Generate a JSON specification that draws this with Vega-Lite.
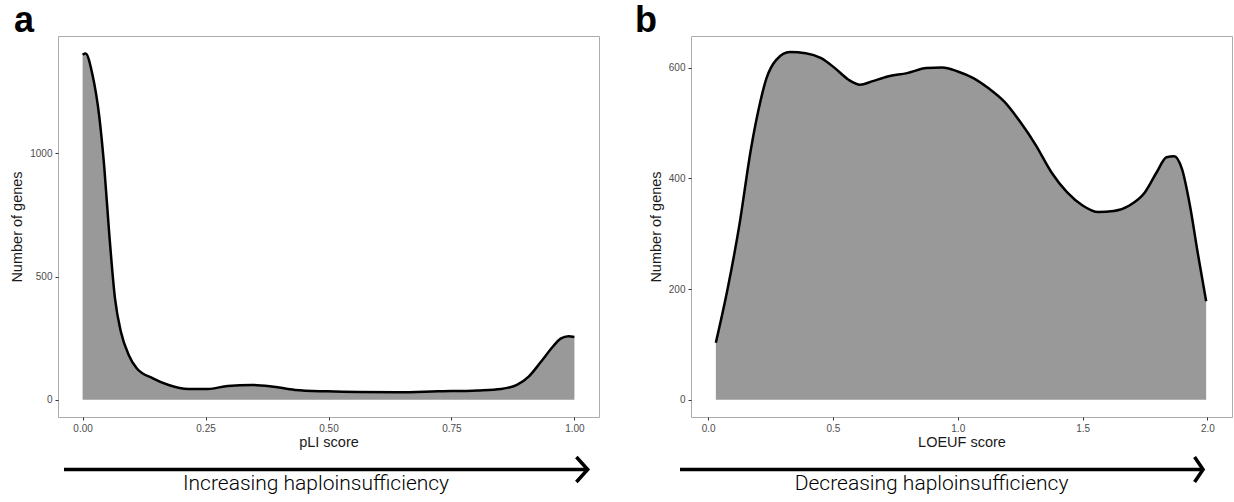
{
  "$schema": "https://vega.github.io/schema/vega-lite/v6.json",
  "autosize": {"type": "pad"},
  "padding": {"left": 8, "top": 2, "right": 3, "bottom": 0},
  "background": "white",
  "bounds": "flush",
  "columns": 2,
  "spacing": {"row": 30, "column": 92},
  "config": {
    "font": "Liberation Sans",
    "view": {"stroke": "#ababab", "strokeWidth": 1},
    "axis": {
      "domain": false,
      "grid": false,
      "tickColor": "#333333",
      "tickSize": 3,
      "tickWidth": 1,
      "labelColor": "#4d4d4d",
      "labelFontSize": 10,
      "labelPadding": 3,
      "labelFlush": false,
      "labelFont": "Liberation Sans",
      "titleFont": "Liberation Sans",
      "titleFontSize": 14.5,
      "titleFontWeight": "normal",
      "titleColor": "#1a1a1a",
      "titlePadding": 2
    }
  },
  "datasets": {
    "pli": [
      {"x": 0, "count": 1400}, {"x": 0.006, "count": 1405}, {"x": 0.02, "count": 1320},
      {"x": 0.034, "count": 1148}, {"x": 0.044, "count": 946}, {"x": 0.054, "count": 678},
      {"x": 0.066, "count": 409}, {"x": 0.078, "count": 275}, {"x": 0.094, "count": 181},
      {"x": 0.11, "count": 128}, {"x": 0.143, "count": 87}, {"x": 0.175, "count": 60},
      {"x": 0.215, "count": 44}, {"x": 0.255, "count": 44}, {"x": 0.295, "count": 56},
      {"x": 0.344, "count": 60}, {"x": 0.384, "count": 54}, {"x": 0.432, "count": 40},
      {"x": 0.497, "count": 34}, {"x": 0.561, "count": 31}, {"x": 0.642, "count": 30},
      {"x": 0.722, "count": 34}, {"x": 0.803, "count": 38}, {"x": 0.851, "count": 44},
      {"x": 0.883, "count": 60}, {"x": 0.907, "count": 94}, {"x": 0.932, "count": 154},
      {"x": 0.956, "count": 215}, {"x": 0.972, "count": 248}, {"x": 0.988, "count": 258},
      {"x": 1.0, "count": 255}
    ],
    "loeuf": [
      {"x": 0.031, "count": 103}, {"x": 0.078, "count": 200}, {"x": 0.125, "count": 315},
      {"x": 0.172, "count": 454}, {"x": 0.203, "count": 526}, {"x": 0.234, "count": 581},
      {"x": 0.273, "count": 614}, {"x": 0.328, "count": 628}, {"x": 0.391, "count": 626},
      {"x": 0.453, "count": 617}, {"x": 0.508, "count": 599}, {"x": 0.5625, "count": 578},
      {"x": 0.609, "count": 569}, {"x": 0.656, "count": 575}, {"x": 0.719, "count": 584},
      {"x": 0.797, "count": 590}, {"x": 0.875, "count": 599}, {"x": 0.9375, "count": 600},
      {"x": 1.0, "count": 593}, {"x": 1.0625, "count": 581}, {"x": 1.125, "count": 562},
      {"x": 1.1875, "count": 538}, {"x": 1.25, "count": 502}, {"x": 1.3125, "count": 460},
      {"x": 1.375, "count": 411}, {"x": 1.4375, "count": 375}, {"x": 1.5, "count": 351},
      {"x": 1.5625, "count": 339}, {"x": 1.625, "count": 341}, {"x": 1.6875, "count": 351},
      {"x": 1.75, "count": 375}, {"x": 1.797, "count": 411}, {"x": 1.836, "count": 438},
      {"x": 1.867, "count": 440}, {"x": 1.898, "count": 417}, {"x": 1.93, "count": 351},
      {"x": 1.961, "count": 266}, {"x": 1.995, "count": 178}
    ],
    "shaftA": [{"x": -0.0378, "x2": 1.027, "y": 0.559, "y2": 0.559}],
    "headA": [{"x": 1.004, "y": 0.804, "o": 1}, {"x": 1.027, "y": 0.559, "o": 2}, {"x": 1.004, "y": 0.314, "o": 3}],
    "labelA": [{"x": 0.4746, "y": 0.157, "label": "Increasing haploinsufficiency"}],
    "shaftB": [{"x": -0.1125, "x2": 1.9826, "y": 0.559, "y2": 0.559}],
    "headB": [{"x": 1.9486, "y": 0.804, "o": 1}, {"x": 1.9826, "y": 0.559, "o": 2}, {"x": 1.9486, "y": 0.314, "o": 3}],
    "labelB": [{"x": 0.895, "y": 0.157, "label": "Decreasing haploinsufficiency"}]
  },
  "concat": [
    {
      "title": {"text": "a", "anchor": "start", "frame": "group", "dx": -44, "offset": -32, "baseline": "alphabetic", "fontSize": 36, "fontWeight": "bold", "font": "Liberation Sans", "color": "black"},
      "width": 541,
      "height": 381,
      "data": {"name": "pli"},
      "mark": {"type": "area", "color": "#999999", "opacity": 1, "interpolate": "monotone", "line": {"color": "black", "strokeWidth": 2.5}},
      "encoding": {
        "x": {"field": "x", "type": "quantitative", "scale": {"domain": [-0.05, 1.05], "nice": false, "zero": false}, "axis": {"title": "pLI score", "values": [0, 0.25, 0.5, 0.75, 1], "format": ".2f"}},
        "y": {"field": "count", "type": "quantitative", "scale": {"domain": [-70, 1476], "nice": false, "zero": false}, "axis": {"title": "Number of genes", "values": [0, 500, 1000], "format": "d", "minExtent": 30, "maxExtent": 30, "titlePadding": 4}}
      }
    },
    {
      "title": {"text": "b", "anchor": "start", "frame": "group", "dx": -56, "offset": -32, "baseline": "alphabetic", "fontSize": 36, "fontWeight": "bold", "font": "Liberation Sans", "color": "black"},
      "width": 541,
      "height": 381,
      "data": {"name": "loeuf"},
      "mark": {"type": "area", "color": "#999999", "opacity": 1, "interpolate": "monotone", "line": {"color": "black", "strokeWidth": 2.5}},
      "encoding": {
        "x": {"field": "x", "type": "quantitative", "scale": {"domain": [-0.0685, 2.0985], "nice": false, "zero": false}, "axis": {"title": "LOEUF score", "values": [0, 0.5, 1, 1.5, 2], "format": ".1f"}},
        "y": {"field": "count", "type": "quantitative", "scale": {"domain": [-31, 657], "nice": false, "zero": false}, "axis": {"title": "Number of genes", "values": [0, 200, 400, 600], "format": "d", "minExtent": 24, "maxExtent": 24, "titlePadding": 4}}
      }
    },
    {
      "width": 541,
      "height": 51,
      "view": {"stroke": null},
      "layer": [
        {
          "data": {"name": "shaftA"},
          "mark": {"type": "rule", "strokeWidth": 3.5, "color": "black"},
          "encoding": {
            "x": {"field": "x", "type": "quantitative", "scale": {"domain": [-0.05, 1.05], "nice": false, "zero": false}, "axis": null},
            "x2": {"field": "x2"},
            "y": {"field": "y", "type": "quantitative", "scale": {"domain": [0, 1], "nice": false, "zero": false}, "axis": null},
            "y2": {"field": "y2"}
          }
        },
        {
          "data": {"name": "headA"},
          "mark": {"type": "line", "strokeWidth": 3.5, "color": "black", "strokeJoin": "miter", "strokeCap": "butt"},
          "encoding": {
            "x": {"field": "x", "type": "quantitative", "scale": {"domain": [-0.05, 1.05], "nice": false, "zero": false}, "axis": null},
            "y": {"field": "y", "type": "quantitative", "scale": {"domain": [0, 1], "nice": false, "zero": false}, "axis": null},
            "order": {"field": "o", "type": "quantitative"}
          }
        },
        {
          "data": {"name": "labelA"},
          "mark": {"type": "text", "font": "Roboto", "fontSize": 21, "fontWeight": 300, "baseline": "alphabetic", "align": "center", "color": "#000000"},
          "encoding": {
            "x": {"field": "x", "type": "quantitative", "scale": {"domain": [-0.05, 1.05], "nice": false, "zero": false}, "axis": null},
            "y": {"field": "y", "type": "quantitative", "scale": {"domain": [0, 1], "nice": false, "zero": false}, "axis": null},
            "text": {"field": "label"}
          }
        }
      ]
    },
    {
      "width": 541,
      "height": 51,
      "view": {"stroke": null},
      "layer": [
        {
          "data": {"name": "shaftB"},
          "mark": {"type": "rule", "strokeWidth": 3.5, "color": "black"},
          "encoding": {
            "x": {"field": "x", "type": "quantitative", "scale": {"domain": [-0.0685, 2.0985], "nice": false, "zero": false}, "axis": null},
            "x2": {"field": "x2"},
            "y": {"field": "y", "type": "quantitative", "scale": {"domain": [0, 1], "nice": false, "zero": false}, "axis": null},
            "y2": {"field": "y2"}
          }
        },
        {
          "data": {"name": "headB"},
          "mark": {"type": "line", "strokeWidth": 3.5, "color": "black", "strokeJoin": "miter", "strokeCap": "butt"},
          "encoding": {
            "x": {"field": "x", "type": "quantitative", "scale": {"domain": [-0.0685, 2.0985], "nice": false, "zero": false}, "axis": null},
            "y": {"field": "y", "type": "quantitative", "scale": {"domain": [0, 1], "nice": false, "zero": false}, "axis": null},
            "order": {"field": "o", "type": "quantitative"}
          }
        },
        {
          "data": {"name": "labelB"},
          "mark": {"type": "text", "font": "Roboto", "fontSize": 21, "fontWeight": 300, "baseline": "alphabetic", "align": "center", "color": "#000000"},
          "encoding": {
            "x": {"field": "x", "type": "quantitative", "scale": {"domain": [-0.0685, 2.0985], "nice": false, "zero": false}, "axis": null},
            "y": {"field": "y", "type": "quantitative", "scale": {"domain": [0, 1], "nice": false, "zero": false}, "axis": null},
            "text": {"field": "label"}
          }
        }
      ]
    }
  ]
}
